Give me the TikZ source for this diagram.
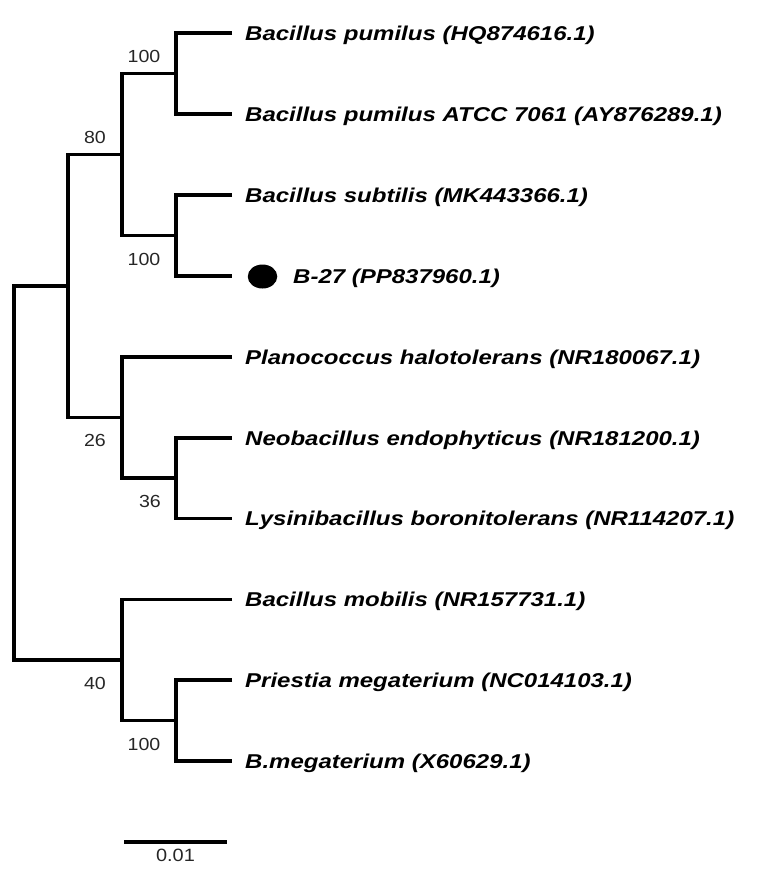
\documentclass[tikz,border=0pt]{standalone}
\usepackage{fontspec}
\usetikzlibrary{shapes.geometric}
\newfontfamily\labfont[FakeStretch=1.2]{Liberation Sans}
\newfontfamily\numfont[FakeStretch=1.12]{Liberation Sans}
\begin{document}
\begin{tikzpicture}[x=1pt,y=-1pt,
  branch/.style={line width=3.4pt, line join=miter},
  taxon/.style={anchor=base west, inner sep=0pt, font=\labfont\fontsize{20}{24}\selectfont\bfseries\itshape},
  boot/.style={inner sep=0pt, text=black!85, font=\numfont\fontsize{17.5}{20}\selectfont},
  scalelab/.style={inner sep=0pt, text=black!85, font=\numfont\fontsize{17.8}{20}\selectfont}]
\useasboundingbox (0,0) rectangle (772,892);
% leaves
\coordinate (l1) at (232,33);
\coordinate (l2) at (232,114);
\coordinate (l3) at (232,195);
\coordinate (l4) at (232,276);
\coordinate (l5) at (232,357);
\coordinate (l6) at (232,438);
\coordinate (l7) at (232,518.5);
\coordinate (l8) at (232,599.5);
\coordinate (l9) at (232,680);
\coordinate (l10) at (232,761);
% internal nodes
\coordinate (a1) at (176,73.5);
\coordinate (a2) at (176,235.5);
\coordinate (a) at (122,154.5);
\coordinate (p2) at (176,478);
\coordinate (p) at (122,417.5);
\coordinate (u) at (68,286);
\coordinate (m2) at (176,720.5);
\coordinate (m) at (122,660);
\coordinate (r) at (14,473);
% branches
\draw[branch] (l1) -| (a1) |- (l2);
\draw[branch] (l3) -| (a2) |- (l4);
\draw[branch] (a1) -| (a) |- (a2);
\draw[branch] (l6) -| (p2) |- (l7);
\draw[branch] (l5) -| (p) |- (p2);
\draw[branch] (a) -| (u) |- (p);
\draw[branch] (l9) -| (m2) |- (l10);
\draw[branch] (l8) -| (m) |- (m2);
\draw[branch] (u) -| (r) |- (m);
% taxon labels
\node[taxon] (t1) at (245,40.2) {Bacillus pumilus (HQ874616.1)};
\node[taxon] (t2) at (245,121.2) {Bacillus pumilus ATCC 7061 (AY876289.1)};
\node[taxon] (t3) at (245,202.2) {Bacillus subtilis (MK443366.1)};
\node[fill=black, ellipse, minimum width=29.5pt, minimum height=24pt, inner sep=0pt] (dot) at (262.5,276.5) {};
\node[taxon] (t4) at (293,283.2) {B-27 (PP837960.1)};
\node[taxon] (t5) at (245,364.2) {Planococcus halotolerans (NR180067.1)};
\node[taxon] (t6) at (245,445.2) {Neobacillus endophyticus (NR181200.1)};
\node[taxon] (t7) at (245,525.7) {Lysinibacillus boronitolerans (NR114207.1)};
\node[taxon] (t8) at (245,606.7) {Bacillus mobilis (NR157731.1)};
\node[taxon] (t9) at (245,687.2) {Priestia megaterium (NC014103.1)};
\node[taxon] (t10) at (245,768.2) {B.megaterium (X60629.1)};
% bootstrap values
\node[boot] (b1) at (144,56.5) {100};
\node[boot] (b2) at (95,137) {80};
\node[boot] (b3) at (144,259) {100};
\node[boot] (b4) at (95,440) {26};
\node[boot] (b5) at (150,501.5) {36};
\node[boot] (b6) at (95,683.5) {40};
\node[boot] (b7) at (144,744) {100};
% scale bar
\coordinate (s1) at (124,842);
\coordinate (s2) at (227,842);
\draw[branch] (s1) -- (s2);
\node[scalelab] (sl) at (175.5,855.5) {0.01};
\end{tikzpicture}
\end{document}
